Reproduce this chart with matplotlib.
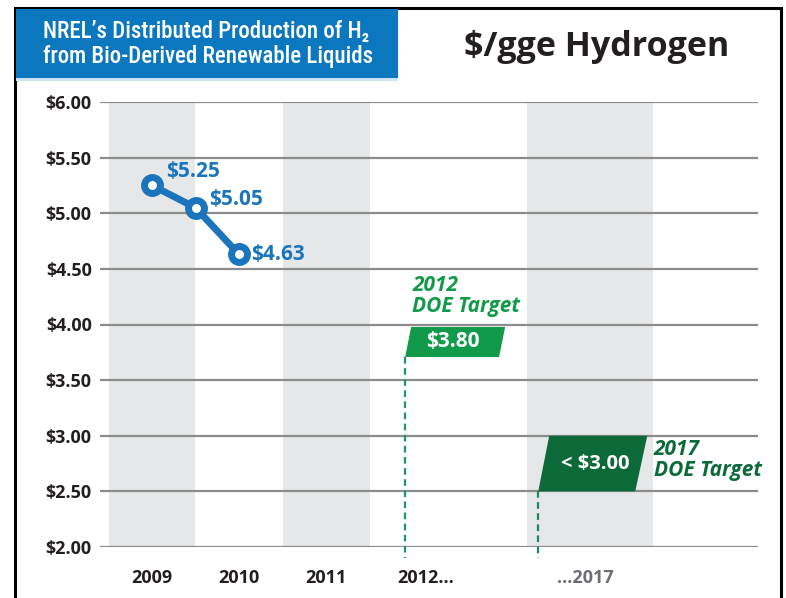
import matplotlib
matplotlib.use("Agg")
import matplotlib.pyplot as plt
from matplotlib import font_manager
from matplotlib.patches import Rectangle, Polygon

# data
years = ["2009", "2010", "2011", "2012...", "...2017"]
year_pos = [0, 1, 2, 3.14, 4.98]
cost_x = [0, 0.5, 1.0]
cost = [5.25, 5.05, 4.63]
target_2012 = 3.80
target_2017 = 3.00
yticks = [2.0, 2.5, 3.0, 3.5, 4.0, 4.5, 5.0, 5.5, 6.0]

BLUE = "#1a75bc"
HEAD_BLUE = "#0b77bf"
GREEN = "#109a4a"
DKGREEN = "#0b6a38"
DARK = "#231f20"
BAND = "#e6e7e8"

names = {f.name for f in font_manager.fontManager.ttflist}
FONT = "Open Sans" if "Open Sans" in names else "DejaVu Sans"
COND = next((n for n in ["Liberation Sans Narrow", "DejaVu Sans Condensed", "Roboto Condensed", "Roboto"]
             if n in names), "DejaVu Sans")
plt.rcParams["font.family"] = [FONT, "DejaVu Sans"]

fig = plt.figure(figsize=(7.86, 5.98), dpi=100)
W, H = 786, 598


def fx(px):
    return px / W


def fy(py):
    return 1 - py / H


# outer frame and header
fig.patches.append(Rectangle((fx(15), fy(640)), fx(781) - fx(15), fy(8) - fy(640),
                             transform=fig.transFigure, fill=False, ec="black", lw=2.2))
fig.patches.append(Rectangle((fx(16), fy(78)), fx(398) - fx(16), fy(9) - fy(78),
                             transform=fig.transFigure, fc=HEAD_BLUE, ec="none"))
fig.patches.append(Rectangle((fx(16), fy(81)), fx(398) - fx(16), fy(78) - fy(81),
                             transform=fig.transFigure, fc="#cde5f4", ec="none"))
fig.text(fx(43), fy(31), "NREL\u2019s Distributed Production of H\u2082", color="white",
         fontsize=16.5, fontweight="medium", family=[COND, "DejaVu Sans"], va="center", ha="left")
fig.text(fx(43), fy(56), "from Bio-Derived Renewable Liquids", color="white",
         fontsize=16.5, fontweight="medium", family=[COND, "DejaVu Sans"], va="center", ha="left")
fig.text(fx(597), fy(47), "$/gge Hydrogen", color=DARK, fontsize=24.5,
         fontweight="bold", ha="center", va="center")

ax = fig.add_axes([fx(100), fy(547), fx(758) - fx(100), fy(102) - fy(547)])
ax.set_xlim(-0.598, 6.966)
ax.set_ylim(2.0, 6.0)

# background bands
for a, b in [(-0.494, 0.494), (1.506, 2.506), (4.31, 5.76)]:
    ax.axvspan(a, b, color=BAND, lw=0, zorder=0)
for y in yticks:
    ax.axhline(y, color="#8c8c8c", lw=1.6, zorder=1)

for s in ax.spines.values():
    s.set_visible(False)
ax.set_yticks(yticks)
ax.set_yticklabels([f"${v:.2f}" for v in yticks], fontsize=13, fontweight="bold", color=DARK)
ax.set_xticks(year_pos)
ax.set_xticklabels(years, fontsize=13, fontweight="bold", color=DARK)
ax.get_xticklabels()[-1].set_color("#6d6e71")
ax.tick_params(length=0)
ax.tick_params(axis="y", pad=6)
ax.tick_params(axis="x", pad=16)

# NREL cost line
ax.plot(cost_x, cost, color=BLUE, lw=5, marker="o", ms=11.5, mew=5,
        mfc="white", mec=BLUE, zorder=5, solid_capstyle="round")
offsets = [(10, 10), (10, 6), (9, 0)]
for x, y, (dx, dy) in zip(cost_x, cost, offsets):
    ax.annotate(f"${y:.2f}", (x, y), xytext=(dx, dy), textcoords="offset points",
                color=BLUE, fontsize=15, fontweight="bold", ha="left", va="center")

# 2012 target flag
x12 = 2.91
ax.add_patch(Polygon([(x12, target_2012 - 0.092), (x12 + 0.069, target_2012 + 0.178),
                      (x12 + 1.149, target_2012 + 0.178), (x12 + 1.08, target_2012 - 0.092)],
                     closed=True, fc=GREEN, ec="none", zorder=4))
ax.text(x12 + 0.55, target_2012 + 0.043, f"${target_2012:.2f}", color="white",
        fontsize=15, fontweight="bold", ha="center", va="center", zorder=5)
ax.text(x12 + 0.08, target_2012 + 0.46, "2012\nDOE Target", color=GREEN, fontsize=15,
        fontweight="bold", style="italic", ha="left", va="center", linespacing=1.0)
ax.plot([x12, x12], [target_2012 - 0.092, 1.9], color="#1a9a60", lw=1.6,
        ls=(0, (3, 2)), clip_on=False, zorder=3)

# 2017 target flag
x17 = 4.44
ax.add_patch(Polygon([(x17, target_2017 - 0.5), (x17 + 0.126, target_2017),
                      (x17 + 1.253, target_2017), (x17 + 1.115, target_2017 - 0.5)],
                     closed=True, fc=DKGREEN, ec="none", zorder=4))
ax.text(x17 + 0.65, target_2017 - 0.25, f"< ${target_2017:.2f}", color="white",
        fontsize=14.5, fontweight="bold", ha="center", va="center", zorder=5)
ax.text(x17 + 1.33, target_2017 - 0.22, "2017\nDOE Target", color=DKGREEN, fontsize=15,
        fontweight="bold", style="italic", ha="left", va="center", linespacing=1.0)
ax.plot([x17, x17], [target_2017 - 0.5, 1.9], color="#1a8a60", lw=1.6,
        ls=(0, (3, 2)), clip_on=False, zorder=3)

fig.savefig("out.png", dpi=100)
